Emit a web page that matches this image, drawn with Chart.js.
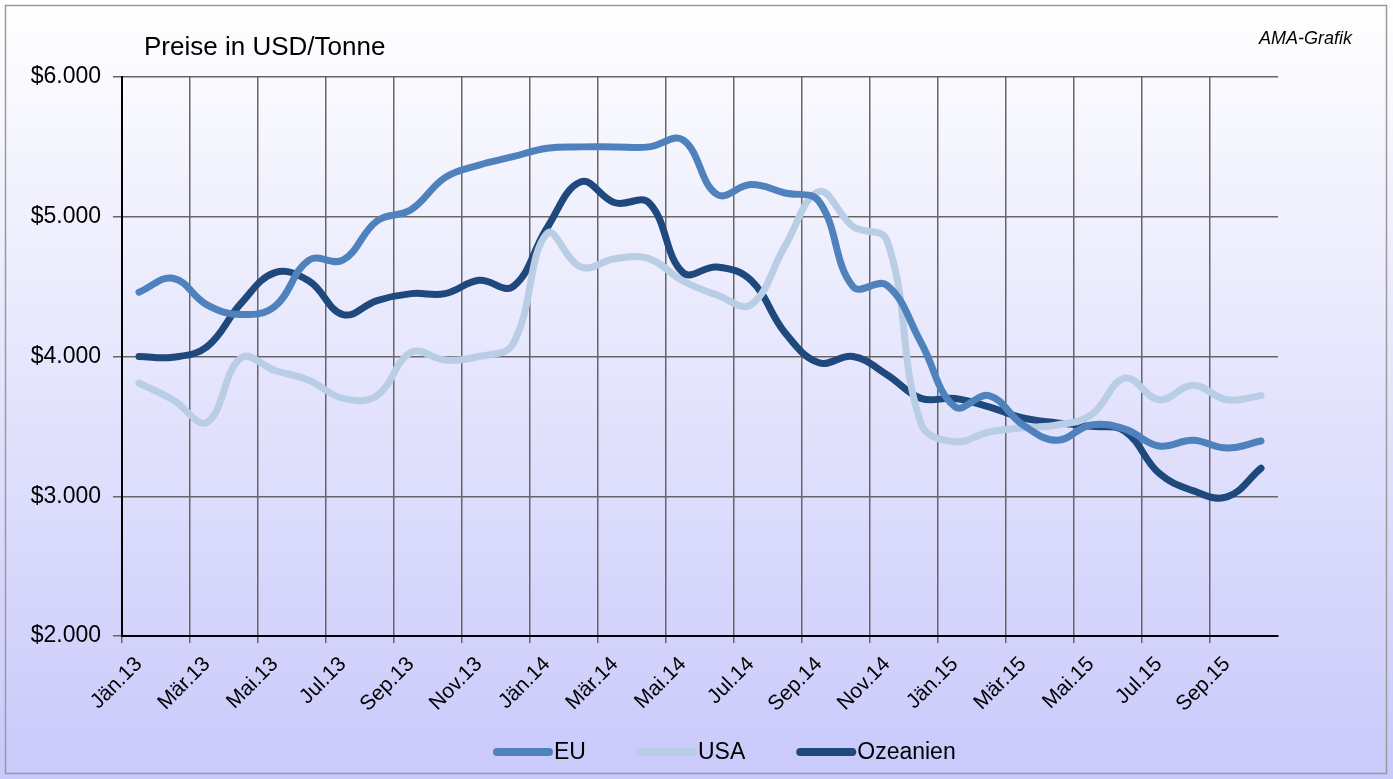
<!DOCTYPE html>
<html>
<head>
<meta charset="utf-8">
<script src="https://cdn.jsdelivr.net/npm/chart.js@4"></script>
<style>
  html, body { margin: 0; padding: 0; }
  #wrap { width: 1393px; height: 779px; }
</style>
</head>
<body>
<div id="wrap"><canvas id="priceChart"></canvas></div>
<script>
const months = [
  'Jän.13', 'Feb.13', 'Mär.13', 'Apr.13', 'Mai.13', 'Jun.13', 'Jul.13', 'Aug.13', 'Sep.13', 'Okt.13', 'Nov.13', 'Dez.13',
  'Jän.14', 'Feb.14', 'Mär.14', 'Apr.14', 'Mai.14', 'Jun.14', 'Jul.14', 'Aug.14', 'Sep.14', 'Okt.14', 'Nov.14', 'Dez.14',
  'Jän.15', 'Feb.15', 'Mär.15', 'Apr.15', 'Mai.15', 'Jun.15', 'Jul.15', 'Aug.15', 'Sep.15', 'Okt.15'
];
const euPrices = [
  4460, 4560, 4370, 4300, 4360, 4690, 4690, 4970, 5050, 5280, 5370, 5430,
  5490, 5500, 5500, 5500, 5550, 5160, 5230, 5170, 5110, 4500, 4510, 4100,
  3640, 3720, 3510, 3400, 3510, 3480, 3360, 3400, 3345, 3395
];
const usaPrices = [
  3810, 3690, 3530, 3990, 3900, 3830, 3700, 3720, 4030, 3975, 4000, 4090,
  4880, 4640, 4700, 4700, 4540, 4440, 4370, 4790, 5180, 4930, 4830, 3520,
  3390, 3460, 3490, 3510, 3580, 3845, 3690, 3795, 3690, 3720
];
const oceaniaPrices = [
  4000, 3995, 4070, 4380, 4600, 4540, 4300, 4400, 4450, 4450, 4545, 4500,
  4920, 5250, 5100, 5100, 4600, 4640, 4545, 4170, 3955, 4000, 3870, 3700,
  3700, 3640, 3560, 3525, 3500, 3465, 3165, 3040, 2995, 3200
];
const yTicks = [2000, 3000, 4000, 5000, 6000];

const FONT = "'Liberation Sans', Arial, sans-serif";

function formatUsd(v) {
  return '$' + String(v).replace(/\B(?=(\d{3})+(?!\d))/g, '.');
}

// page background, frame, title, source note and legend
const decorPlugin = {
  id: 'decor',
  beforeDraw(chart) {
    const c = chart.ctx;
    const g = c.createLinearGradient(0, 0, 0, chart.height);
    g.addColorStop(0, '#ffffff');
    g.addColorStop(1, '#c9c9fb');
    c.save();
    c.fillStyle = g;
    c.fillRect(0, 0, chart.width, chart.height);
    c.restore();
  },
  afterDraw(chart) {
    const c = chart.ctx;
    c.save();
    c.strokeStyle = '#9a9a9a';
    c.lineWidth = 1.5;
    c.strokeRect(5.5, 5.5, chart.width - 12, chart.height - 11);

    c.fillStyle = '#000';
    c.textBaseline = 'middle';
    c.textAlign = 'left';
    c.font = '26px ' + FONT;
    c.fillText('Preise in USD/Tonne', 144, 48);
    c.textAlign = 'right';
    c.font = 'italic 18px ' + FONT;
    c.fillText('AMA-Grafik', 1352, 39);

    // legend
    c.textAlign = 'left';
    c.font = '23px ' + FONT;
    let x = 493;
    const y = 752;
    chart.data.datasets.forEach(ds => {
      c.strokeStyle = ds.borderColor;
      c.lineWidth = 8;
      c.lineCap = 'round';
      c.beginPath();
      c.moveTo(x + 4, y);
      c.lineTo(x + 56, y);
      c.stroke();
      c.fillStyle = '#000';
      c.fillText(ds.label, x + 61, y + 1);
      x += 61 + c.measureText(ds.label).width + 51;
    });
    c.restore();
  }
};

const lineStyle = {
  borderWidth: 7,
  pointRadius: 0,
  pointHoverRadius: 0,
  tension: 0.4,
  borderCapStyle: 'round',
  borderJoinStyle: 'round',
  fill: false
};

new Chart(document.getElementById('priceChart').getContext('2d'), {
  type: 'line',
  data: {
    labels: months,
    datasets: [
      Object.assign({ label: 'EU', data: euPrices, borderColor: '#4f81bd' }, lineStyle),
      Object.assign({ label: 'USA', data: usaPrices, borderColor: '#b9cde5' }, lineStyle),
      Object.assign({ label: 'Ozeanien', data: oceaniaPrices, borderColor: '#1f497d' }, lineStyle)
    ]
  },
  options: {
    responsive: true,
    maintainAspectRatio: false,
    animation: false,
    layout: { padding: { top: 77, right: 115, bottom: 0, left: 0 } },
    plugins: {
      legend: { display: false },
      title: { display: false },
      tooltip: { enabled: false }
    },
    scales: {
      x: {
        type: 'category',
        offset: true,
        grid: {
          offset: true,
          color: ctx => (ctx.index % 2 === 0 ? '#666666' : 'rgba(0,0,0,0)'),
          lineWidth: 1.5,
          tickLength: 7
        },
        border: { color: '#000', width: 2 },
        ticks: {
          autoSkip: false,
          maxRotation: 45,
          minRotation: 45,
          padding: 9,
          color: '#000',
          font: { family: FONT, size: 21 },
          callback: function(value, index) {
            return index % 2 === 0 ? this.getLabelForValue(value) : '';
          }
        },
        afterFit: scale => { scale.height = 143; }
      },
      y: {
        min: yTicks[0],
        max: yTicks[yTicks.length - 1],
        afterBuildTicks: scale => { scale.ticks = yTicks.map(v => ({ value: v })); },
        grid: { color: '#666666', lineWidth: 1.5, tickLength: 9 },
        border: { color: '#000', width: 2 },
        ticks: {
          padding: 12,
          color: '#000',
          font: { family: FONT, size: 23 },
          callback: v => formatUsd(v)
        },
        afterFit: scale => { scale.width = 122; }
      }
    }
  },
  plugins: [decorPlugin]
});
</script>
</body>
</html>
